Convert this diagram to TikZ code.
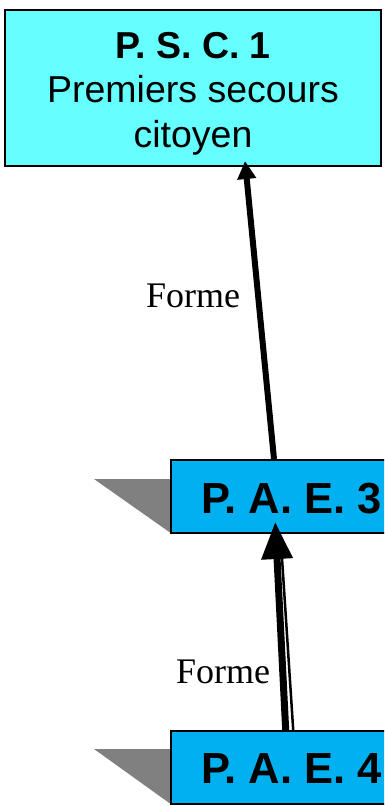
\documentclass[tikz,border=0pt]{standalone}
\usepackage{fontspec}
\newfontfamily\arialf{Liberation Sans}
\newfontfamily\tnrf{Liberation Serif}
\usetikzlibrary{arrows.meta,calc}
\definecolor{psccyan}{RGB}{102,255,255}
\definecolor{paeblue}{RGB}{0,176,240}
\definecolor{shadowgray}{RGB}{128,128,128}
\tikzset{
  box/.style={draw=black,line width=2pt,inner sep=0pt,rectangle},
  pscbox/.style={box,fill=psccyan,minimum width=376pt,minimum height=156pt,align=center,
     font=\arialf\fontsize{37.5}{44.5}\selectfont},
  paebox/.style={box,fill=paeblue,minimum width=242pt,minimum height=73pt,
     font=\arialf\bfseries\fontsize{43.5}{50}\selectfont,text height=33pt,text depth=0pt},
  shadowtri/.style={fill=shadowgray,draw=none},
  lbl/.style={font=\tnrf\fontsize{36}{40}\selectfont,inner sep=0pt,anchor=base west},
  conn/.style={line width=6pt,-{Triangle[length=18pt,width=18pt]}},
  bigconn/.style={line width=7pt,-{Triangle[length=37pt,width=30pt]}},
  thinline/.style={line width=2.5pt}
}
\begin{document}
\begin{tikzpicture}[x=1pt,y=-1pt]
\useasboundingbox (0,0) rectangle (384,806);
\clip (0,0) rectangle (384,806);
% shadows
\fill[shadowtri] (94,479) -- (170.7,479) -- (170.7,533) -- cycle;
\fill[shadowtri] (94,749) -- (170.7,749) -- (170.7,804) -- cycle;
% boxes
\node[pscbox] (psc) at (193,88) {\rule{0pt}{37pt}\textbf{P. S. C. 1}\\Premiers secours\\citoyen};
\node[paebox] (pae3) at (291.7,496.5) {P. A. E. 3};
\node[paebox] (pae4) at (291.7,767.4) {P. A. E. 4};
% connector endpoints
\coordinate (c1s) at ($(pae3.north west)+(104.3,0)$);
\coordinate (c1e) at ($(psc.south west)+(241,-6)$);
\coordinate (c2s) at ($(pae4.north west)+(116,0)$);
\coordinate (c2e) at ($(pae3.south west)+(105.5,-12)$);
\coordinate (c2ts) at ($(pae4.north west)+(123.5,0)$);
\coordinate (c2te) at ($(pae3.south west)+(112.3,24)$);
% connectors
\draw[conn] (c1s) -- (c1e);
\draw[thinline] (c2ts) -- (c2te);
\draw[bigconn] (c2s) -- (c2e);
% labels
\node[lbl] (f1) at (146,307) {Forme};
\node[lbl] (f2) at (176,683) {Forme};
\end{tikzpicture}
\end{document}
